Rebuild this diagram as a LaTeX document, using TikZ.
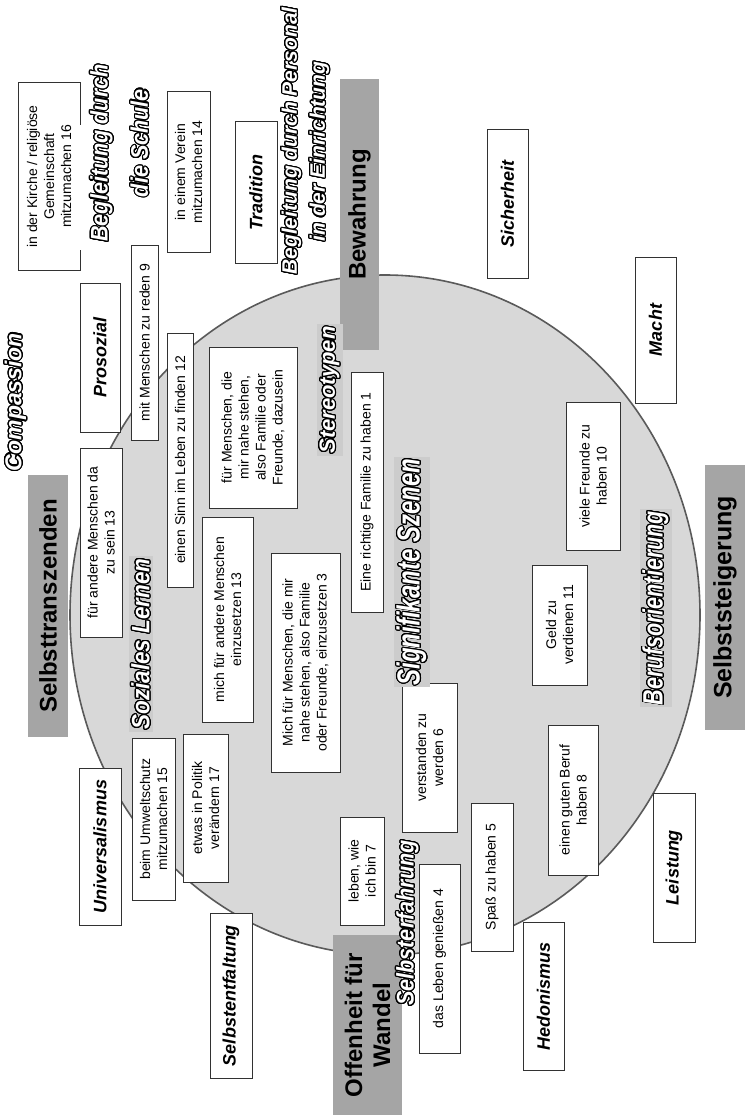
\documentclass[tikz,border=0pt]{standalone}
\usepackage{fontspec}
\setmainfont{Liberation Sans}
\usepackage{graphicx}
\usepackage[copies]{contour}
\contourlength{1.2pt}
\contournumber{24}
\definecolor{circfill}{RGB}{216,216,216}
\definecolor{circline}{RGB}{90,90,90}
\definecolor{bargray}{RGB}{165,165,165}
\definecolor{boxline}{RGB}{50,50,50}
\definecolor{decobg}{RGB}{204,204,204}
\newcommand\decotxt[3]{\fontsize{#1}{#1}\selectfont\bfseries\itshape\scalebox{#2}[1]{\contour{black}{\textcolor{white}{#3}}}}
\tikzset{
  boxnode/.style={draw=boxline, line width=1pt, fill=white, rotate=90, inner sep=0pt, align=center,
    font=\fontsize{14}{17}\selectfont},
  lblnode/.style={boxnode, font=\fontsize{18}{21}\selectfont\bfseries\itshape},
  sz/.style 2 args={minimum width=#1pt, minimum height=#2pt},
  barnode/.style={fill=bargray, rotate=90, inner sep=0pt, align=center,
    font=\fontsize{24}{28}\selectfont\bfseries},
  deconode/.style={rotate=90, inner sep=2pt},
  decofill/.style={deconode, fill=decobg}
}
\begin{document}
\begin{tikzpicture}[x=1pt,y=-1pt]
\useasboundingbox (0,0) rectangle (745,1115);
\fill[white] (0,0) rectangle (745,1115);
% circle
\draw[fill=circfill, draw=circline, line width=1.6pt] (385,615) ellipse [x radius=315pt, y radius=340pt];
% grey bars
\node[barnode, sz={262}{40}] (selbsttr) at (48,606) {Selbsttranszenden};
\node[barnode, sz={271}{39}] (bewahrung) at (359.5,214.5) {Bewahrung};
\node[barnode, sz={265}{40}, font=\fontsize{25}{29}\selectfont\bfseries] (selbststeig) at (725,597.5) {Selbststeigerung};
\node[barnode, sz={180}{69}] (offenheit) at (367.5,1025) {Offenheit für\\Wandel};
% value labels
\node[lblnode, sz={141}{42}] (tradition) at (256,192.5) {Tradition};
\node[lblnode, sz={148}{41}] (sicherheit) at (507.5,204) {Sicherheit};
\node[lblnode, sz={146}{41}] (macht) at (655.5,330) {Macht};
\node[lblnode, sz={149}{40}] (prosozial) at (100,357.5) {Prosozial};
\node[lblnode, sz={148}{41}] (hedonismus) at (543.5,996) {Hedonismus};
\node[lblnode, sz={149}{42}] (leistung) at (674,867.5) {Leistung};
\node[lblnode, sz={157}{42}] (universalismus) at (100,846.5) {Universalismus};
\node[lblnode, sz={165}{42}] (selbstentfaltung) at (231,995.5) {Selbstentfaltung};
% statement boxes
\node[boxnode, sz={187}{62}] (kirche) at (49,176.5) {in der Kirche / religiöse\\Gemeinschaft\\mitzumachen 16};
\node[boxnode, sz={160}{43}] (verein) at (188.5,172) {in einem Verein\\mitzumachen 14};
\node[boxnode, sz={195}{27}] (reden) at (144.5,342.5) {mit Menschen zu reden 9};
\node[boxnode, sz={254}{26}] (sinn) at (180,460) {einen Sinn im Leben zu finden 12};
\node[boxnode, sz={189}{42}] (dasein) at (101,542.5) {für andere Menschen da\\zu sein 13};
\node[boxnode, sz={161}{88}] (dazusein) at (253,427.5) {für Menschen, die\\mir nahe stehen,\\also Familie oder\\Freunde, dazusein};
\node[boxnode, sz={205}{51}] (einsetzen) at (227.5,619.5) {mich für andere Menschen\\einzusetzen 13};
\node[boxnode, sz={219}{69}] (einsetzendrei) at (305.5,662.5) {Mich für Menschen, die mir\\nahe stehen, also Familie\\oder Freunde, einzusetzen 3};
\node[boxnode, sz={240}{32}] (familie) at (367,492) {Eine richtige Familie zu haben 1};
\node[boxnode, sz={148}{54}] (freunde) at (593,476) {viele Freunde zu\\haben 10};
\node[boxnode, sz={120}{55}] (geld) at (559.5,625) {Geld zu\\verdienen 11};
\node[boxnode, sz={149}{55}] (verstanden) at (429.5,757.5) {verstanden zu\\werden 6};
\node[boxnode, sz={150}{50}] (beruf) at (573,800) {einen guten Beruf\\haben 8};
\node[boxnode, sz={148}{42}] (spass) at (492,877) {Spaß zu haben 5};
\node[boxnode, sz={189}{41}] (geniessen) at (439.5,958.5) {das Leben genießen 4};
\node[boxnode, sz={108}{44}] (leben) at (362,871) {leben, wie\\ich bin 7};
\node[boxnode, sz={162}{43}] (umwelt) at (153.5,819) {beim Umweltschutz\\mitzumachen 15};
\node[boxnode, sz={148}{45}] (politik) at (205.5,808) {etwas in Politik\\verändern 17};
% white patch behind "Begleitung"
\fill[white] (77,125) rectangle (117,250);
% decorative outlined titles
\node[deconode] (compassion) at (16,402) {\decotxt{23}{1}{Compassion}};
\node[deconode] (beglA) at (102,153) {\decotxt{24}{0.9}{Begleitung durch}};
\node[deconode] (beglB) at (140,143) {\decotxt{24}{0.9}{die Schule}};
\node[deconode] (persA) at (292,141) {\decotxt{21}{1}{Begleitung durch Personal}};
\node[deconode] (persB) at (320,151.5) {\decotxt{21}{1}{in der Einrichtung}};
\node[decofill] (soziales) at (141,644) {\decotxt{25}{0.9}{Soziales Lernen}};
\node[decofill] (stereotypen) at (330,390) {\decotxt{22}{1}{Stereotypen}};
\node[decofill] (signifikant) at (412,572) {\decotxt{32}{0.75}{Signifikante Szenen}};
\node[decofill] (berufsor) at (656,608) {\decotxt{28}{0.77}{Berufsorientierung}};
\node[deconode] (selbsterf) at (408,923) {\decotxt{24}{0.9}{Selbsterfahrung}};
\end{tikzpicture}
\end{document}
